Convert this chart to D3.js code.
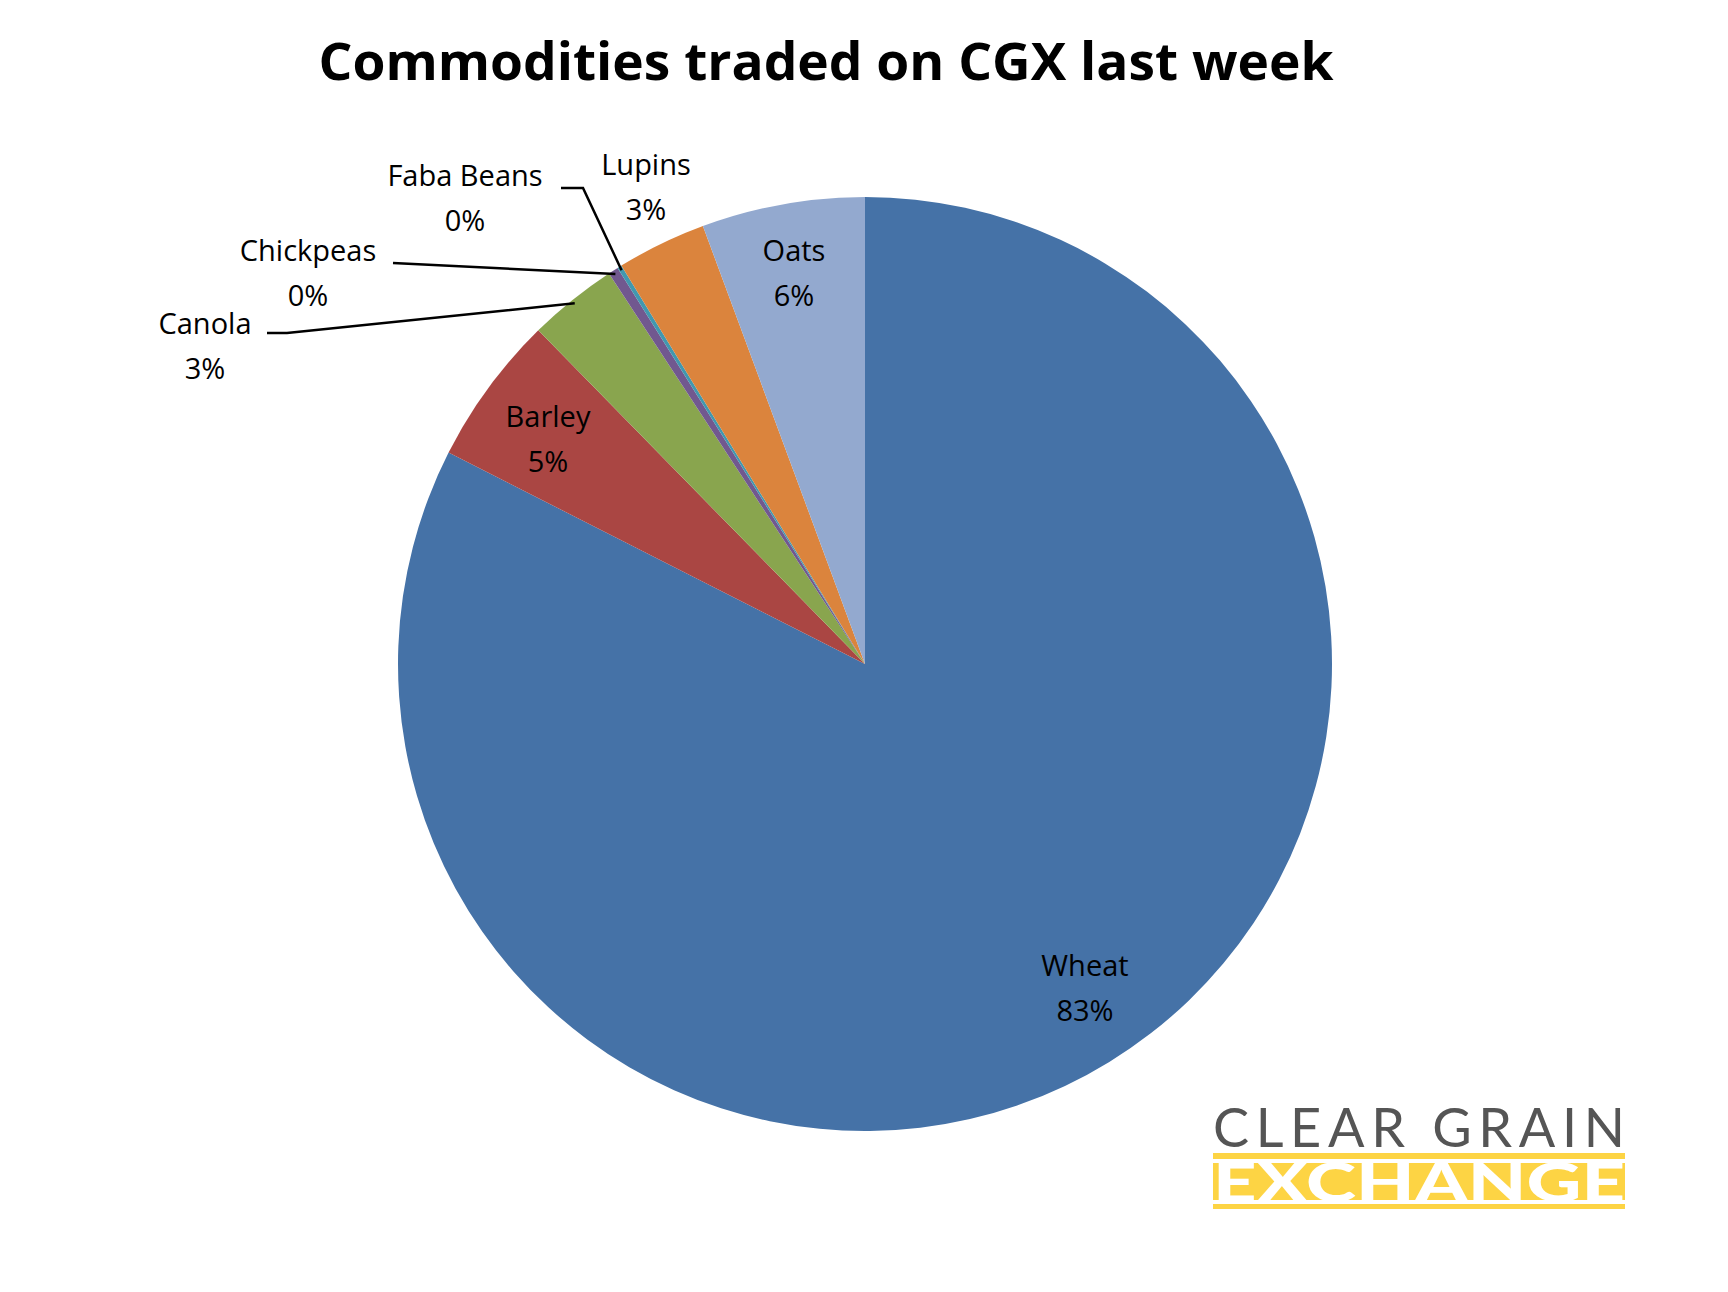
<!doctype html>
<html>
<head>
<meta charset="utf-8">
<title>Commodities traded on CGX</title>
<script src="https://d3js.org/d3.v7.min.js"></script>
<style>
  body { margin: 0; background: #fff; }
  svg { display: block; font-family: "Open Sans", sans-serif; }
</style>
</head>
<body>
<svg width="1728" height="1292"></svg>
<script>
// data (percent of volume)
var categories = ["Wheat", "Barley", "Canola", "Chickpeas", "Faba Beans", "Lupins", "Oats"];
var values = [82.6, 5.2, 3.1, 0.35, 0.15, 3.1, 5.65];
var pctLabels = ["83%", "5%", "3%", "0%", "0%", "3%", "6%"];
var colors = ["#4572A7", "#AA4643", "#89A54E", "#71588F", "#4198AF", "#DB843D", "#93A9CF"];

var svg = d3.select("svg");
var cx = 865, cy = 664, r = 467;

svg.append("text")
  .attr("x", 826).attr("y", 80)
  .attr("text-anchor", "middle")
  .attr("font-size", 52).attr("font-weight", "bold")
  .attr("textLength", 1015).attr("lengthAdjust", "spacingAndGlyphs")
  .text("Commodities traded on CGX last week");

var data = categories.map(function(c, i) { return {name: c, value: values[i], pct: pctLabels[i], color: colors[i]}; });
var pie = d3.pie().value(function(d) { return d.value; }).sort(null);
var arc = d3.arc().innerRadius(0).outerRadius(r);
var arcs = pie(data);

var g = svg.append("g").attr("transform", "translate(" + cx + "," + cy + ")");
g.selectAll("path").data(arcs).enter().append("path")
  .attr("d", arc)
  .attr("fill", function(d) { return d.data.color; });

// label placements (layout only)
var labelPos = {
  "Wheat": [1085, 966, null],
  "Barley": [548, 417, null],
  "Canola": [205, 324, [[267, 333], [287, 333]]],
  "Chickpeas": [308, 251, [[393, 263]]],
  "Faba Beans": [465, 176, [[561, 188], [583, 188]]],
  "Lupins": [646, 165, null],
  "Oats": [794, 251, null]
};

arcs.forEach(function(a) {
  var p = labelPos[a.data.name];
  var t = svg.append("text").attr("text-anchor", "middle").attr("font-size", 29).attr("fill", "#000");
  t.append("tspan").attr("x", p[0]).attr("y", p[1] + 10).text(a.data.name);
  t.append("tspan").attr("x", p[0]).attr("y", p[1] + 55).text(a.data.pct);
  if (p[2]) {
    var mid = (a.startAngle + a.endAngle) / 2;
    var end = [cx + Math.sin(mid) * (r - 4), cy - Math.cos(mid) * (r - 4)];
    var pts = p[2].concat([end]);
    svg.append("path")
      .attr("d", d3.line()(pts))
      .attr("fill", "none").attr("stroke", "#000").attr("stroke-width", 2.5);
  }
});

// logo
var logo = svg.append("g");
logo.append("text").attr("x", 1213).attr("y", 1147)
  .attr("font-size", 54).attr("fill", "#555").attr("textLength", 412)
  .attr("font-family", "Lato, sans-serif").text("CLEAR GRAIN");
logo.append("rect").attr("x", 1213).attr("y", 1153).attr("width", 412).attr("height", 56).attr("fill", "#FDD444");
logo.append("text").attr("x", 1213).attr("y", 1202)
  .attr("font-size", 56).attr("font-weight", "900").attr("fill", "#fff")
  .attr("textLength", 412).attr("lengthAdjust", "spacingAndGlyphs")
  .attr("font-family", "Lato, sans-serif").text("EXCHANGE");
logo.append("rect").attr("x", 1213).attr("y", 1159).attr("width", 412).attr("height", 4).attr("fill", "#fff");
logo.append("rect").attr("x", 1213).attr("y", 1200).attr("width", 412).attr("height", 4).attr("fill", "#fff");
</script>
</body>
</html>
